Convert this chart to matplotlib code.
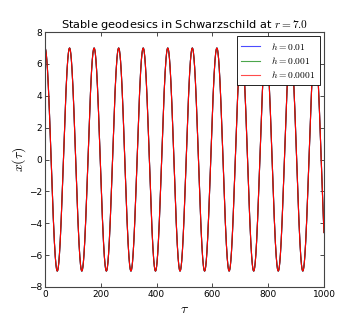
import numpy as np
import matplotlib
matplotlib.use("Agg")
import matplotlib.pyplot as plt

plt.rcParams['mathtext.fontset'] = 'cm'

# values
radius = 7.0            # amplitude of x(tau)
period = 88.0           # tau between successive peaks
tau_max = 1000.0
step_labels = ["$h=0.01$", "$h=0.001$", "$h=0.0001$"]
colors = ["blue", "green", "red"]
xticks = [0, 200, 400, 600, 800, 1000]
yticks = [-8, -6, -4, -2, 0, 2, 4, 6, 8]

tau = np.linspace(0, tau_max, 4000)
x = radius * np.cos(2 * np.pi * tau / period)

fig = plt.figure(figsize=(3.6, 3.21), dpi=100)
ax = fig.add_axes([0.125, 0.106, 0.775, 0.794])
for lab, c in zip(step_labels, colors):
    ax.plot(tau, x, color=c, lw=0.8, label=lab)

ax.set_xlim(0, 1000)
ax.set_ylim(-8, 8)
ax.set_xticks(xticks)
ax.set_yticks(yticks)
ax.tick_params(direction='in', top=True, right=True, labelsize=6.5, length=3, width=0.5, pad=2)
for s in ax.spines.values():
    s.set_linewidth(0.8)
    s.set_color('#444444')
ax.set_xlabel(r"$\tau$", fontsize=10, labelpad=2)
ax.set_ylabel(r"$x(\tau)$", fontsize=10, labelpad=1)
ax.set_title(r"Stable geodesics in Schwarzschild at $r=7.0$", fontsize=8.2, pad=3)
leg = ax.legend(loc='upper right', fontsize=6.9, fancybox=False, framealpha=1,
                borderaxespad=0.45, borderpad=0.45, handlelength=1.9, handletextpad=1.2,
                labelspacing=0.35, edgecolor='black')
leg.get_frame().set_linewidth(0.6)
for ln in leg.get_lines():
    ln.set_alpha(0.7)

fig.savefig("out.png", dpi=100)
